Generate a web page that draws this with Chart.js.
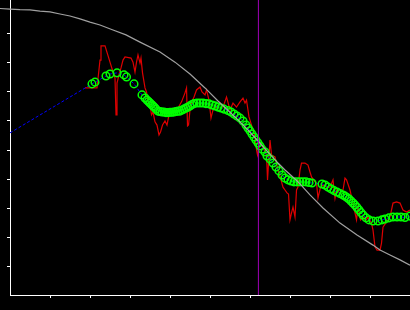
<!DOCTYPE html>
<html>
<head>
<meta charset="utf-8">
<script src="https://cdn.jsdelivr.net/npm/chart.js@4/dist/chart.umd.min.js"></script>
<style>
	html, body { margin: 0; padding: 0; background: #000; overflow: hidden; }
	#wrap { position: relative; width: 410px; height: 310px; }
</style>
</head>
<body>
<div id="wrap"><canvas id="fit"></canvas></div>
<script>
// reference curve (grey)
const grayX = [-0.25, 0, 0.25, 0.5, 0.75, 1.0, 1.25, 1.5, 1.75, 2.0, 2.25, 2.575, 2.9, 3.25, 3.75, 4.125, 4.5, 4.875, 5.2, 5.625, 5.95, 6.2, 6.45, 6.7, 6.875, 7.125, 7.25, 7.5, 7.825, 8.25, 8.675, 9.075, 9.25, 9.5, 9.75, 10];
const grayY = [9.88, 9.86, 9.84, 9.83, 9.79, 9.76, 9.69, 9.62, 9.52, 9.41, 9.31, 9.14, 8.97, 8.72, 8.38, 8.03, 7.62, 7.14, 6.69, 6.14, 5.69, 5.31, 4.93, 4.55, 4.31, 4.0, 3.83, 3.45, 3.0, 2.48, 2.07, 1.72, 1.55, 1.38, 1.21, 1.03];

// smoothed series (blue line, green markers)
const smoothX = [0, 2.05, 2.125, 2.4, 2.5, 2.675, 2.85, 2.913, 3.1, 3.3, 3.375, 3.425, 3.463, 3.5, 3.538, 3.575, 3.613, 3.65, 3.7,
	3.75, 3.8, 3.85, 3.9, 3.95, 4.0, 4.05, 4.1, 4.15, 4.2, 4.25, 4.3, 4.35, 4.4, 4.45, 4.5, 4.55, 4.6, 4.675, 4.75, 4.825, 4.9, 4.975,
	5.05, 5.125, 5.2, 5.275, 5.35, 5.45, 5.525, 5.6, 5.675, 5.75, 5.825, 5.9, 5.95, 6.0, 6.05, 6.1, 6.15, 6.2, 6.25, 6.3, 6.375, 6.425,
	6.5, 6.575, 6.65, 6.725, 6.8, 6.875, 6.95, 7.025, 7.1, 7.175, 7.25, 7.325, 7.4, 7.475, 7.55, 7.8, 7.875, 7.95, 8.025, 8.1, 8.175,
	8.25, 8.325, 8.375, 8.425, 8.475, 8.525, 8.575, 8.625, 8.675, 8.725, 8.775, 8.825, 8.9, 8.975, 9.075, 9.2, 9.3, 9.375, 9.475,
	9.575, 9.675, 9.775, 9.875, 10.0];
const smoothY = [5.59, 7.28, 7.34, 7.55, 7.62, 7.66, 7.59, 7.52, 7.28, 6.90, 6.79, 6.72, 6.67, 6.62, 6.57, 6.52, 6.47, 6.41, 6.34,
	6.33, 6.31, 6.31, 6.29, 6.29, 6.30, 6.30, 6.31, 6.33, 6.34, 6.34, 6.38, 6.41, 6.45, 6.48, 6.52, 6.57, 6.60, 6.62, 6.62, 6.62, 6.60, 6.59,
	6.55, 6.52, 6.48, 6.45, 6.41, 6.36, 6.31, 6.24, 6.17, 6.10, 6.0, 5.86, 5.76, 5.66, 5.55, 5.45, 5.34, 5.24, 5.14, 5.03, 4.93, 4.79,
	4.69, 4.55, 4.41, 4.28, 4.14, 4.03, 3.97, 3.93, 3.90, 3.90, 3.90, 3.90, 3.90, 3.88, 3.86, 3.83, 3.79, 3.72, 3.66, 3.60, 3.55,
	3.50, 3.45, 3.41, 3.36, 3.31, 3.24, 3.17, 3.10, 3.02, 2.93, 2.84, 2.76, 2.66, 2.59, 2.55, 2.55, 2.59, 2.62, 2.66,
	2.69, 2.69, 2.69, 2.67, 2.72];

// raw measurements (red)
const rawX = [1.875, 2.175, 2.25, 2.275, 2.375, 2.5, 2.575, 2.625, 2.65, 2.675, 2.725, 2.775, 2.825, 2.875, 3.025, 3.075, 3.125, 3.163,
	3.2, 3.25, 3.275, 3.313, 3.375, 3.413, 3.45, 3.5, 3.538, 3.575, 3.625, 3.675, 3.725, 3.763, 3.813, 3.875, 3.925, 3.975, 4.038,
	4.125, 4.2, 4.288, 4.375, 4.413, 4.438, 4.463, 4.5, 4.538, 4.6, 4.663, 4.75, 4.8, 4.875, 4.913, 4.975, 5.025, 5.075, 5.163,
	5.25, 5.325, 5.413, 5.5, 5.575, 5.663, 5.75, 5.825, 5.875, 5.913, 5.975, 6.038, 6.125, 6.163, 6.188, 6.25, 6.325, 6.413, 6.438,
	6.5, 6.538, 6.625, 6.7, 6.775, 6.825, 6.875, 6.925, 6.963, 7.0, 7.038, 7.075, 7.125, 7.163, 7.2, 7.25, 7.288, 7.375, 7.45, 7.5,
	7.538, 7.625, 7.663, 7.7, 7.763, 7.825, 7.913, 8.0, 8.075, 8.125, 8.163, 8.25, 8.325, 8.375, 8.413, 8.5, 8.538, 8.625, 8.663,
	8.7, 8.763, 8.825, 8.913, 8.95, 9.038, 9.075, 9.125, 9.175, 9.25, 9.288, 9.325, 9.413, 9.5, 9.575, 9.663, 9.75, 9.825, 9.913, 10.0];
const rawY = [7.14, 7.14, 8.10, 8.59, 8.59, 8.03, 7.69, 7.48, 6.21, 7.31, 7.59, 7.83, 8.10, 8.21, 8.17, 8.03, 7.69, 8.03,
	8.28, 8.0, 8.17, 7.66, 7.14, 7.0, 6.66, 6.55, 6.21, 6.31, 5.97, 5.86, 5.52, 5.62, 5.86, 6.0, 5.86, 6.21, 6.28,
	6.38, 6.45, 6.66, 6.97, 7.14, 5.83, 5.86, 6.38, 6.62, 6.83, 7.07, 7.17, 7.0, 6.90, 7.07, 6.72, 6.10, 6.38, 6.48,
	6.62, 6.48, 6.83, 6.38, 6.62, 6.48, 6.66, 6.79, 6.62, 6.72, 6.14, 5.86, 5.45, 5.0, 4.83, 5.24, 5.10, 4.83, 3.97,
	5.34, 4.83, 4.76, 4.31, 3.97, 3.72, 3.62, 3.52, 3.48, 2.59, 2.83, 3.03, 2.69, 3.62, 3.72, 4.31, 4.55, 4.55, 4.48, 4.24,
	4.07, 3.90, 3.86, 3.34, 3.72, 3.79, 3.72, 3.72, 3.97, 3.34, 3.62, 3.52, 3.62, 4.03, 3.97, 3.62, 3.38, 2.83, 2.59,
	3.03, 2.59, 2.69, 2.59, 2.69, 2.48, 2.24, 1.66, 1.55, 1.55, 1.79, 2.34, 2.52, 2.69, 3.17, 3.21, 3.17, 2.93, 2.86, 2.93];

// vertical marker (purple)
const markerX = 6.21;
const yTop = 295 / 29;

function toPoints(xs, ys) {
	return xs.map((x, i) => ({ x: x, y: ys[i] }));
}

// only inner ticks are drawn
function innerTicks(scale) {
	scale.ticks = scale.ticks.filter((t) => t.value >= 1 && t.value <= 9);
}

let ctx = document.getElementById("fit").getContext("2d");
let fitChart = new Chart(ctx, {
	type: "scatter",
	data: {
		datasets: [
			{
				data: [{ x: markerX, y: 0 }, { x: markerX, y: yTop }],
				showLine: true,
				borderColor: "#a000b8",
				borderWidth: 1,
				pointRadius: 0,
			},
			{
				data: toPoints(grayX, grayY),
				showLine: true,
				borderColor: "#a0a0a0",
				borderWidth: 1.2,
				pointRadius: 0,
				clip: false,
			},
			{
				data: toPoints(smoothX, smoothY),
				showLine: true,
				borderColor: "#0000ff",
				borderWidth: 1,
				borderDash: [3, 2],
				pointRadius: (c) => (c.dataIndex === 0 ? 0 : 3.8),
				pointBorderColor: "#00ff00",
				pointBackgroundColor: "rgba(0,0,0,0)",
				pointBorderWidth: 1.5,
			},
			{
				data: toPoints(rawX, rawY),
				showLine: true,
				borderColor: "#dd0000",
				borderWidth: 1.2,
				pointRadius: 0,
			},
		],
	},
	options: {
		responsive: true,
		maintainAspectRatio: false,
		animation: false,
		events: [],
		layout: {
			autoPadding: false,
			padding: { left: 7, right: 0, top: 0, bottom: 12 },
		},
		scales: {
			x: {
				type: "linear",
				min: 0,
				max: 10,
				afterBuildTicks: innerTicks,
				ticks: { display: false, stepSize: 1 },
				grid: { drawOnChartArea: false, drawTicks: true, tickLength: 3, tickColor: "#ffffff" },
				border: { color: "#ffffff", width: 1 },
			},
			y: {
				type: "linear",
				min: 0,
				max: yTop,
				afterBuildTicks: innerTicks,
				ticks: { display: false, stepSize: 1 },
				grid: { drawOnChartArea: false, drawTicks: true, tickLength: 3, tickColor: "#ffffff" },
				border: { color: "#ffffff", width: 1 },
			},
		},
		plugins: {
			legend: { display: false },
			tooltip: { enabled: false },
		},
	},
});
</script>
</body>
</html>
